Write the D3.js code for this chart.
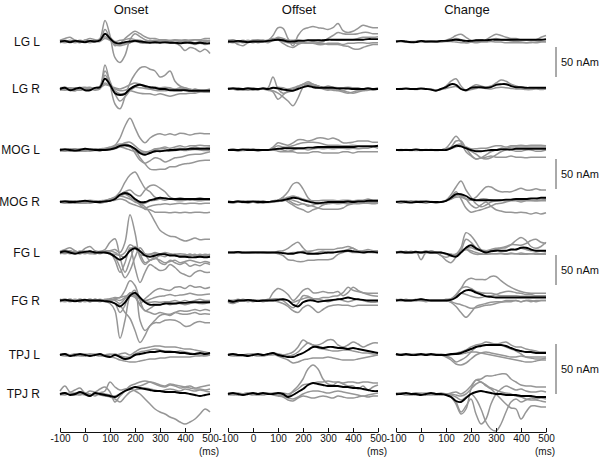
<!DOCTYPE html>
<html><head><meta charset="utf-8">
<script src="https://cdn.jsdelivr.net/npm/d3@7"></script>
<style>body{margin:0;background:#fff}svg{display:block;font-family:"Liberation Sans",Arial,sans-serif}</style>
</head><body><svg id="c" width="600" height="459"></svg>
<script>
// ---------- DATA ----------
const timesMs = [-100,-80,-60,-40,-20,0,20,40,60,80,100,120,140,160,180,200,220,240,260,280,300,320,340,360,380,400,420,440,460,480,500];
const regions = ["LG L","LG R","MOG L","MOG R","FG L","FG R","TPJ L","TPJ R"];
const conditions = ["Onset","Offset","Change"];
const xTickValues = [-100,0,100,200,300,400,500];
const timeUnitLabel = "(ms)";
const scaleBarValue = 50;
const scaleBarLabel = "50 nAm";

// LG L (nAm)
const LGL_onset_mean = [0,1,-1,1,0,-1,1,0,2,13,5,-2,-3,-1,0,1,0,-1,-2,-1,-2,-1,-2,-2,-3,-2,-2,-3,-2,-3,-3];
const LGL_onset_subj = [
 [0,2,0,-2,0,2,0,0,5,35,10,-27,-35,-23,3,13,8,3,0,-2,0,2,0,-2,0,2,0,-2,0,2,0],
 [2,5,7,2,0,2,5,3,2,20,5,-7,-3,5,12,17,13,8,5,5,3,3,2,3,2,3,2,3,3,5,5],
 [0,-2,0,2,0,-2,0,0,2,8,3,-3,-5,-3,-2,0,-2,-3,-2,-3,-2,-2,-3,-3,-7,-15,-10,-12,-17,-13,-20],
 [-2,0,-2,0,2,0,-2,0,0,5,2,-5,-7,-5,-2,2,0,-2,0,2,0,-2,-3,-2,0,-2,-3,-5,-3,-5,-3],
 [0,0,2,0,-2,2,0,2,3,12,7,0,2,3,5,3,2,0,2,0,2,2,0,2,2,0,2,3,2,0,2]];
const LGL_offset_mean = [0,0,1,0,-1,0,0,0,1,2,3,2,0,0,1,1,2,2,2,2,3,3,3,3,3,3,3,3,4,4,4];
const LGL_offset_subj = [
 [0,0,-2,0,2,0,0,2,2,10,23,22,5,-7,10,20,23,25,23,22,20,23,30,18,15,17,22,27,25,23,23],
 [0,0,0,0,0,2,0,0,0,2,3,0,-2,-3,-3,-2,-3,-3,-2,0,5,10,15,13,12,12,13,15,15,13,13],
 [-2,0,-5,-7,-2,0,-2,0,2,5,3,-3,-8,-10,-5,-2,-3,-3,-3,-3,-5,-5,-5,-7,-8,-12,-13,-10,-7,-5,-5],
 [2,3,0,-2,0,2,3,2,0,3,7,5,2,0,-2,-2,-3,-3,-5,-5,-3,-3,-3,-5,-3,-3,-2,-2,-3,-2,-2],
 [0,-2,0,2,0,-2,0,0,-2,2,5,3,2,2,3,2,2,0,2,2,3,3,2,2,3,3,5,7,7,7,8]];
const LGL_change_mean = [0,1,0,-1,-1,1,0,0,0,1,1,2,3,2,1,1,2,2,2,3,3,3,3,3,3,3,3,3,3,3,4];
const LGL_change_subj = [
 [0,1,0,-1,0,1,0,0,-1,0,2,5,10,12,7,2,2,3,3,8,12,10,7,5,5,3,3,3,3,7,10],
 [-1,0,-1,-2,-1,0,-1,0,0,0,1,2,5,3,-2,-1,0,1,2,3,5,3,2,1,0,-1,-2,-2,-1,0,1],
 [1,0,-1,0,0,-1,0,1,0,-1,0,0,-1,-2,-2,-1,-2,-1,-1,0,-1,-1,-2,-2,-2,-2,-2,-1,-2,-1,-1]];

// LG R
const LGR_onset_mean = [0,2,-2,0,2,-2,-2,2,3,17,7,-7,-10,-8,0,5,7,5,3,2,0,0,-2,-2,-2,-2,-3,-3,-3,-3,-3];
const LGR_onset_subj = [
 [2,3,0,-3,2,3,0,2,5,40,8,-25,-33,-13,10,25,35,37,33,30,20,23,30,13,5,2,0,-2,-3,-2,-3],
 [-2,0,2,0,-2,2,3,0,2,30,13,-8,-20,-13,-3,3,7,3,0,-2,-3,-3,-2,-3,-3,-2,-3,-5,-3,-5,-5],
 [0,-2,0,2,0,-2,0,-2,0,23,10,-3,-8,-7,-3,-5,-7,-8,-8,-10,-8,-10,-12,-10,-8,-8,-7,-7,-5,-5,-5],
 [2,0,-2,-3,0,2,2,0,2,7,5,2,0,3,7,10,8,5,3,3,2,3,2,0,2,0,-2,0,-2,-2,0],
 [-1,1,2,-1,-2,0,1,2,1,10,5,0,-3,-2,1,3,2,1,0,1,-1,0,1,-1,0,-1,-2,-1,-2,-3,-2]];
const LGR_offset_mean = [0,1,0,0,1,0,0,1,0,2,1,-1,-2,-3,0,3,5,3,2,2,2,2,1,1,1,0,0,0,1,0,0];
const LGR_offset_subj = [
 [0,2,0,-2,0,2,0,0,2,20,0,-7,-5,-2,3,8,12,8,5,2,0,0,-2,-2,0,0,-2,0,0,-2,0],
 [0,0,2,0,-2,0,0,0,-2,-5,-17,-10,-3,0,3,7,8,5,2,0,-2,0,0,-3,-5,-7,-5,-3,-2,0,0],
 [0,0,0,0,0,-2,0,0,0,-3,-7,-13,-20,-28,-15,3,10,8,5,2,0,-2,-3,-5,-7,-5,-3,-2,-2,0,0],
 [2,0,-2,0,2,0,-2,2,0,2,3,2,0,2,5,8,8,7,5,3,5,3,2,2,3,2,2,0,2,0,2]];
const LGR_change_mean = [0,0,1,0,0,1,0,-1,-3,0,3,8,7,0,-2,2,3,3,2,3,7,8,8,5,3,3,2,2,2,2,2];
const LGR_change_subj = [
 [0,0,0,0,0,0,0,0,-2,0,5,13,17,5,-2,3,7,5,3,5,10,15,13,8,5,3,2,2,2,0,2],
 [0,1,0,0,-1,0,0,-1,-2,-1,1,3,4,0,-3,-1,1,2,1,0,2,3,2,1,0,0,-1,-1,0,-1,0]];

// MOG L
const MOGL_onset_mean = [0,1,0,-1,0,2,1,0,0,0,1,3,7,8,7,2,-5,-8,-5,-2,-2,-1,0,0,1,1,2,2,2,2,2];
const MOGL_onset_subj = [
 [0,2,0,0,2,0,-2,0,2,3,5,8,20,40,53,37,20,12,20,25,27,25,27,25,28,27,25,27,28,27,27],
 [0,0,-2,0,0,-2,0,2,0,2,3,5,8,10,7,-5,-17,-22,-18,-13,-15,-20,-17,-13,-12,-10,-8,-7,-7,-5,-3],
 [2,0,0,2,-2,0,2,0,0,0,2,3,7,8,5,0,-13,-23,-32,-33,-32,-32,-28,-28,-25,-23,-22,-20,-18,-17,-17],
 [0,-2,0,2,0,-2,0,0,-2,2,3,7,10,8,5,2,-3,-5,-2,2,3,5,3,5,7,5,7,7,8,7,7],
 [-2,0,2,0,-2,0,2,2,0,0,2,5,8,12,13,7,0,-3,-2,0,2,2,0,2,3,2,3,5,3,3,5],
 [1,-1,0,-2,1,2,0,-1,1,0,0,2,5,3,0,-3,-6,-8,-5,-3,-2,-1,-2,-1,0,-1,0,1,0,-1,0]];
const MOGL_offset_mean = [0,0,0,1,0,0,0,0,0,1,2,3,3,3,3,3,4,4,5,5,5,5,5,5,5,5,6,6,6,6,7];
const MOGL_offset_subj = [
 [0,1,0,-1,0,0,1,0,0,5,12,10,8,12,17,17,15,17,20,20,18,20,17,12,12,13,15,15,15,13,13],
 [0,0,-2,0,0,0,-2,0,0,0,-2,-3,-3,-3,-5,-5,-5,-3,-3,-5,-5,-5,-5,-3,-3,-5,-3,-3,-3,-3,-3],
 [0,2,0,0,0,2,0,0,0,3,7,5,5,7,10,12,13,13,12,10,8,8,8,7,7,8,7,7,7,7,7],
 [0,0,0,0,2,0,0,0,0,2,2,0,-2,0,2,2,0,2,3,2,3,2,3,3,2,3,2,3,3,5,3]];
const MOGL_change_mean = [0,0,0,0,1,0,0,0,0,0,0,3,7,6,3,0,-2,-2,-1,0,0,1,1,1,2,2,2,2,2,2,2];
const MOGL_change_subj = [
 [0,1,0,0,-1,0,0,1,0,0,3,13,23,13,-3,-10,-15,-13,-12,-10,-12,-12,-12,-10,-12,-12,-13,-12,-12,-12,-12],
 [0,0,1,0,0,-1,0,0,0,0,2,5,15,15,3,-8,-15,-13,-8,-3,0,3,3,5,5,5,5,5,5,5,5],
 [0,-1,0,0,1,0,0,0,-1,0,2,3,8,10,3,-2,-7,-13,-15,-13,-8,-3,0,0,-2,-2,0,0,-2,-2,0],
 [1,0,0,-1,0,0,1,0,0,0,0,2,5,7,5,2,2,3,3,5,7,7,5,7,7,8,7,8,8,8,7]];

// MOG R
const MOGR_onset_mean = [0,1,0,0,1,2,1,0,0,1,2,5,12,15,12,5,0,0,3,5,7,6,5,5,5,5,5,5,5,5,5];
const MOGR_onset_subj = [
 [0,2,0,-2,0,2,3,2,0,2,5,8,17,33,45,50,37,23,17,8,5,3,5,3,2,3,5,3,2,3,3],
 [0,0,2,0,-2,0,0,2,0,0,3,7,10,8,5,0,-3,-8,-18,-33,-47,-53,-57,-58,-62,-65,-63,-60,-63,-62,-62],
 [2,0,-2,0,2,0,-2,0,2,3,5,8,10,17,13,3,-5,-12,-13,-17,-17,-17,-18,-17,-18,-17,-18,-17,-17,-18,-17],
 [0,-2,0,2,0,-2,0,0,-2,0,2,5,12,17,20,13,10,20,27,28,23,17,8,5,3,3,5,3,3,5,3],
 [0,2,2,0,-2,-2,0,2,0,2,3,7,10,13,8,2,-3,-2,2,3,5,7,5,5,7,5,3,5,7,5,5],
 [-1,0,-2,1,0,-1,1,0,0,1,2,3,5,3,-2,-5,-8,-10,-7,-5,-4,-3,-4,-3,-2,-3,-2,-2,-3,-2,-2]];
const MOGR_offset_mean = [0,0,1,0,0,1,0,0,0,1,2,3,5,7,6,3,1,-1,-2,-1,0,0,0,0,1,0,1,1,2,2,2];
const MOGR_offset_subj = [
 [0,0,2,0,0,0,2,0,0,2,3,8,17,30,32,22,7,0,-2,-3,-2,0,-2,-2,0,-2,0,0,2,0,0],
 [0,-2,0,0,2,0,0,-2,0,0,2,7,0,-5,-10,-13,-17,-13,-10,-5,-2,0,0,-2,0,0,-2,0,0,-2,0],
 [0,0,0,2,0,0,-2,0,0,0,2,3,5,3,0,-3,-5,-7,-10,-12,-12,-12,-12,-10,-5,-3,-2,-2,0,0,0],
 [2,0,0,0,-2,0,0,2,0,2,3,5,8,10,8,5,3,2,2,3,3,3,2,3,3,2,3,3,5,3,3],
 [-1,0,1,-1,0,1,0,0,-1,0,1,2,3,-2,-5,-3,-7,-5,-3,-2,-3,-2,-3,-2,-3,-2,-3,-2,-2,-3,-2]];
const MOGR_change_mean = [0,1,0,-1,0,0,1,0,0,0,2,7,13,13,10,5,3,3,3,3,3,3,4,4,5,5,5,6,6,7,7];
const MOGR_change_subj = [
 [0,0,0,0,0,2,0,0,0,0,3,12,25,35,20,8,-3,-8,-5,0,2,3,2,3,3,5,3,5,5,3,5],
 [0,0,2,0,0,0,0,0,-2,0,2,7,12,10,5,3,8,17,25,25,20,17,17,17,20,23,20,20,22,20,20],
 [0,-2,0,0,2,0,-2,0,0,0,2,5,10,12,5,-5,-10,-5,0,-7,-13,-15,-17,-17,-18,-17,-18,-20,-18,-20,-18],
 [0,0,0,2,0,0,0,0,0,0,2,8,17,5,-10,-17,-15,-13,-10,-7,-3,-2,0,2,2,0,2,2,2,2,2],
 [1,0,-1,0,0,-1,0,1,0,0,2,5,8,8,5,3,3,5,5,3,2,3,2,3,3,2,3,3,2,3,3]];

// FG L
const FGL_onset_mean = [0,2,0,-2,0,1,2,0,0,0,-2,-7,-12,-7,3,7,2,-5,-7,-5,-3,-3,-5,-5,-7,-7,-8,-8,-7,-8,-7];
const FGL_onset_subj = [
 [0,2,3,0,-2,2,0,2,0,2,3,5,0,17,63,33,-8,-20,-13,-10,-13,-17,-15,-13,-17,-15,-13,-15,-17,-15,-17],
 [2,5,8,3,0,7,10,3,2,5,17,23,-8,-33,-13,8,-3,-17,-13,-10,-5,-7,-3,-5,-7,-5,-3,-5,-3,-5,-3],
 [0,-2,0,2,0,-2,0,0,0,0,0,-13,-33,-17,8,-25,-50,-33,-20,-25,-30,-28,-20,-25,-33,-37,-40,-33,-30,-33,-33],
 [0,0,-2,0,2,0,-2,-2,0,0,-3,-8,-25,-42,-30,-8,8,-3,-13,-7,-17,-20,-13,-17,-20,-17,-23,-20,-22,-18,-20],
 [-2,0,2,0,-2,0,2,0,-2,0,-2,-3,-5,0,13,8,-3,-5,-3,-2,-3,-3,-5,-3,-5,-5,-3,-5,-5,-3,-5],
 [0,2,0,0,2,2,0,-2,0,2,3,0,-5,-8,5,10,3,-2,-3,0,-2,0,-2,-3,-2,-3,-5,-3,-7,-5,-7]];
const FGL_offset_mean = [0,0,1,0,0,0,0,0,0,0,0,-1,-2,-2,0,0,-2,-2,-2,-1,0,0,1,2,3,2,1,0,1,1,0];
const FGL_offset_subj = [
 [0,1,0,0,-1,0,0,1,0,0,2,3,7,13,17,8,0,-2,0,2,0,0,2,3,5,7,3,2,2,0,0],
 [0,0,-1,0,0,1,0,0,-1,0,-2,-5,-12,-13,-15,-15,-13,-13,-12,-12,-12,-10,-3,0,2,0,0,0,0,0,0],
 [1,0,0,-1,0,0,1,0,0,0,0,0,-2,0,0,2,2,3,5,5,5,5,7,8,10,7,3,3,5,3,3]];
const FGL_change_mean = [0,1,0,0,1,0,1,0,0,0,-2,-5,-7,0,8,12,7,3,0,2,3,3,3,5,5,8,8,5,3,3,3];
const FGL_change_subj = [
 [0,0,2,0,2,-12,0,0,0,-5,-8,-5,-3,8,33,28,17,5,3,3,5,3,3,5,5,7,5,3,3,3,3],
 [0,2,0,0,0,0,3,0,0,0,-2,-3,-5,3,22,17,8,3,2,3,5,7,8,13,20,25,20,10,7,10,17],
 [0,0,0,2,0,0,0,3,0,-5,-13,-17,-8,0,5,0,-3,-3,-3,-2,-2,-2,-3,-2,-2,-3,-3,-2,-3,-3,-3],
 [0,0,0,0,0,0,0,0,0,0,-2,-3,-3,2,7,8,5,3,3,5,7,8,10,13,13,12,15,20,22,17,15],
 [1,0,-1,0,0,1,0,-1,0,-1,-3,-5,-3,2,5,3,0,-2,-3,-2,-2,-1,-2,-1,-2,-1,-2,-2,-1,-2,-1]];

// FG R
const FGR_onset_mean = [0,1,0,-1,0,1,0,0,0,-1,-2,-5,-10,-3,8,13,5,-3,-7,-7,-7,-5,-5,-5,-4,-4,-3,-3,-3,-3,-3];
const FGR_onset_subj = [
 [0,2,0,-2,0,2,-2,0,0,-2,-5,-17,-63,-33,8,17,-33,-50,-42,-33,-25,-23,-25,-20,-17,-18,-17,-15,-17,-15,-17],
 [0,0,2,0,-2,0,2,0,0,0,-2,-5,-8,-20,-30,-50,-70,-58,-42,-37,-37,-33,-32,-33,-37,-43,-42,-37,-35,-37,-37],
 [2,0,-2,0,2,0,0,2,0,2,3,5,5,17,33,25,0,-17,-13,-8,-7,-5,-7,-5,-5,-7,-5,-3,-5,-5,-3],
 [0,-2,0,2,0,-2,0,0,2,0,0,3,5,7,8,5,-5,3,10,17,20,18,17,22,23,20,25,22,23,20,22],
 [-2,0,2,0,-2,0,2,0,-2,0,-2,-5,-20,-8,13,8,-8,-17,-20,-23,-20,-22,-23,-20,-22,-23,-22,-20,-23,-22,-23],
 [0,2,0,0,2,0,-2,2,0,0,2,0,-5,3,10,7,2,-2,-3,-2,-3,-2,-2,0,-2,0,-2,0,2,0,0],
 [0,-1,1,0,0,1,0,-1,0,1,0,2,0,5,12,10,3,0,2,5,7,8,10,8,9,10,12,10,9,10,11]];
const FGR_offset_mean = [0,-2,0,0,1,0,-1,0,0,0,1,2,0,-7,-10,-3,0,0,-2,-1,0,1,2,3,5,3,2,1,0,0,0];
const FGR_offset_subj = [
 [0,0,2,0,0,0,0,0,0,13,20,17,10,0,7,17,20,13,13,15,13,13,15,8,13,22,17,13,10,8,7],
 [-2,-3,-2,0,0,-2,0,0,0,0,-2,-5,-10,-17,-20,-12,-8,-13,-20,-15,-10,-8,-7,-8,-8,-10,-8,-8,-8,-8,-8],
 [0,0,0,2,0,0,0,0,2,2,3,2,0,-3,0,3,5,3,3,5,5,7,8,13,22,17,15,13,12,12,12],
 [-3,-5,-2,0,-2,0,0,-2,0,2,3,0,-7,-12,-5,8,7,3,2,0,-2,0,2,0,-2,0,2,0,-2,-3,-2]];
const FGR_change_mean = [0,1,0,0,1,2,1,0,0,0,0,1,5,12,17,17,13,10,7,6,5,5,5,5,5,5,5,5,5,5,5];
const FGR_change_subj = [
 [0,0,2,0,0,0,0,0,0,0,0,2,8,20,33,37,35,35,35,40,40,33,27,22,18,15,13,12,12,12,12],
 [0,2,0,0,0,2,0,0,0,0,0,-3,-10,-20,-28,-20,-10,-7,-5,-3,-2,-2,0,0,0,-2,0,0,-2,0,0],
 [0,0,0,0,2,0,0,0,0,0,2,3,10,20,23,20,15,13,12,12,10,8,8,8,8,7,7,7,7,7,7],
 [2,0,0,0,0,0,-2,0,0,0,0,-2,-5,-7,-10,-13,-12,-10,-8,-7,-5,-3,-2,-2,0,-2,0,-2,0,0,0],
 [0,0,0,0,0,3,0,0,0,0,0,2,7,12,10,7,5,5,7,8,10,13,15,15,13,12,10,10,8,8,8]];

// TPJ L
const TPJL_onset_mean = [0,1,-1,0,1,0,-1,0,1,-1,-2,0,-2,-4,-3,0,1,2,3,3,4,3,3,3,2,2,1,1,2,1,2];
const TPJL_onset_subj = [
 [1,0,-1,1,0,-1,1,0,-1,0,1,0,1,2,0,3,6,7,8,9,9,8,8,8,7,6,6,5,4,3,2],
 [0,-1,0,1,-1,0,1,0,0,-1,-2,-3,-5,-6,-7,-7,-6,-5,-4,-4,-3,-3,-2,-2,-2,-2,-2,-1,-1,0,0],
 [0,1,0,-1,0,1,0,1,0,-1,0,1,-1,-2,-2,1,3,4,5,6,5,4,4,3,4,3,2,1,0,-1,0]];
const TPJL_offset_mean = [0,1,0,0,-1,0,1,0,1,2,0,-1,-2,-2,0,2,5,8,8,7,8,8,7,7,6,7,6,5,4,3,2];
const TPJL_offset_subj = [
 [0,1,0,-1,0,1,0,0,1,2,1,0,1,3,8,15,12,10,10,12,15,15,10,8,10,13,11,8,10,12,12],
 [0,-1,0,0,1,0,-1,0,0,1,-1,-3,-5,-8,-7,-5,-4,-3,-3,-3,-2,-3,-4,-5,-5,-5,-4,-3,-2,-1,0],
 [1,0,-1,0,0,1,0,-1,0,0,1,0,-1,0,3,8,12,10,7,6,5,4,4,5,5,4,3,2,2,1,1]];
const TPJL_change_mean = [1,0,1,0,0,1,0,1,0,0,0,1,1,2,4,6,8,9,10,10,10,10,9,7,5,4,3,3,2,2,2];
const TPJL_change_subj = [
 [1,0,0,1,0,0,1,0,0,0,-1,-3,-7,-5,-2,3,8,10,10,11,11,10,8,6,4,1,-2,-3,-4,-4,-3],
 [0,1,0,0,1,0,0,0,1,0,-2,-5,-9,-10,-8,-4,0,2,3,2,1,0,-1,-2,-2,-1,-2,-2,-2,-2,-2],
 [0,0,1,0,0,1,0,0,0,1,0,1,2,3,5,8,10,11,13,12,11,12,13,10,8,8,6,5,4,3,3],
 [1,0,0,0,1,0,0,1,0,0,0,0,1,1,2,3,3,2,1,0,-1,-2,-3,-4,-5,-6,-7,-7,-6,-5,-5]];

// TPJ R
const TPJR_onset_mean = [0,1,-1,0,2,0,-2,1,0,-1,-2,-3,0,3,5,7,6,5,4,3,3,2,2,2,1,1,0,-1,-2,-1,0];
const TPJR_onset_subj = [
 [0,1,0,-1,1,0,-1,0,1,0,-1,-2,0,3,5,3,0,-5,-10,-15,-18,-20,-23,-25,-28,-30,-28,-25,-20,-15,-18],
 [3,8,2,4,6,1,3,2,5,7,2,-8,-2,3,8,10,12,13,12,10,8,7,9,8,6,7,8,6,7,8,9],
 [0,-1,1,0,-1,1,0,-2,1,3,12,7,4,5,6,7,8,10,12,11,9,8,10,9,8,7,6,5,5,4,5],
 [-1,0,0,1,0,-1,-2,0,-1,-2,-3,-5,-8,-3,2,4,5,6,5,4,3,4,5,4,3,5,4,3,4,3,2]];
const TPJR_offset_mean = [0,1,0,-1,0,1,0,1,0,0,1,0,-3,-1,2,5,9,11,10,9,8,8,8,7,7,6,6,5,4,3,3];
const TPJR_offset_subj = [
 [1,0,0,-1,0,1,0,0,1,0,1,0,-2,3,8,15,25,29,25,15,10,9,12,10,8,8,5,8,4,7,9],
 [0,-1,0,0,1,0,-1,0,0,-1,-2,-3,-6,-7,-4,-2,-3,-4,-3,-2,-3,-4,-2,-3,-4,-4,-3,-2,-3,-2,-2],
 [-1,0,1,0,0,-1,0,1,0,1,0,1,0,2,5,9,10,11,12,12,13,12,12,11,12,12,11,12,12,11,11],
 [0,0,-1,0,1,0,0,-1,0,0,-1,-2,-4,-5,-3,0,2,3,3,2,1,2,3,2,1,0,-1,-2,-1,0,1]];
const TPJR_change_mean = [0,0,1,0,0,-1,0,1,0,0,-1,-3,-7,-8,-4,0,2,3,2,1,0,0,-1,-1,-1,-2,-2,-2,-3,-3,-3];
const TPJR_change_subj = [
 [0,1,0,0,-1,0,1,0,0,0,0,-3,-10,-20,-15,5,14,15,18,18,19,20,20,15,12,9,8,8,7,7,7],
 [1,0,0,-1,0,0,0,1,0,-1,0,-2,-8,-18,-12,-5,-20,-30,-25,-10,0,5,8,6,4,5,3,2,2,3,2],
 [0,0,-1,0,1,0,0,0,-1,0,0,-1,-3,-6,-3,0,-5,-15,-28,-35,-37,-30,-18,-8,-5,-8,-6,-4,-5,-4,-5],
 [-1,0,0,0,1,0,-1,0,0,1,0,0,-1,-2,0,5,10,12,8,5,0,-5,-10,-14,-15,-25,-18,-12,-12,-13,-13],
 [0,1,0,0,0,1,0,-1,0,0,0,1,2,0,3,8,14,12,9,6,4,2,1,0,-2,-3,-5,-6,-6,-7,-8]];

// ---------- TABLE ----------
const panelData = [
 [[LGL_onset_mean,LGL_onset_subj],[LGL_offset_mean,LGL_offset_subj],[LGL_change_mean,LGL_change_subj]],
 [[LGR_onset_mean,LGR_onset_subj],[LGR_offset_mean,LGR_offset_subj],[LGR_change_mean,LGR_change_subj]],
 [[MOGL_onset_mean,MOGL_onset_subj],[MOGL_offset_mean,MOGL_offset_subj],[MOGL_change_mean,MOGL_change_subj]],
 [[MOGR_onset_mean,MOGR_onset_subj],[MOGR_offset_mean,MOGR_offset_subj],[MOGR_change_mean,MOGR_change_subj]],
 [[FGL_onset_mean,FGL_onset_subj],[FGL_offset_mean,FGL_offset_subj],[FGL_change_mean,FGL_change_subj]],
 [[FGR_onset_mean,FGR_onset_subj],[FGR_offset_mean,FGR_offset_subj],[FGR_change_mean,FGR_change_subj]],
 [[TPJL_onset_mean,TPJL_onset_subj],[TPJL_offset_mean,TPJL_offset_subj],[TPJL_change_mean,TPJL_change_subj]],
 [[TPJR_onset_mean,TPJR_onset_subj],[TPJR_offset_mean,TPJR_offset_subj],[TPJR_change_mean,TPJR_change_subj]]
];

// ---------- LAYOUT ----------
const svg = d3.select("#c");
const colX0 = [60, 228, 396], panelW = 150;
const rowBase = [41.5, 89, 150, 202, 252.5, 300.5, 355, 394];
const rowGain = [0.6,0.6,0.6,0.6,0.6,0.6,1,1]; // px per nAm
const axisY = 432;
const barX = 556;
const barCenters = [{row:0, cy:62},{row:2, cy:174},{row:4, cy:270},{row:6, cy:369}];

const xScales = colX0.map(x0 => d3.scaleLinear().domain([-100,500]).range([x0, x0+panelW]));
const yScales = rowBase.map((b,r) => d3.scaleLinear().domain([-50,50]).range([b+50*rowGain[r], b-50*rowGain[r]]));

regions.forEach((reg, r) => {
  conditions.forEach((cond, c) => {
    const [mean, subj] = panelData[r][c];
    const x = xScales[c], y = yScales[r];
    const line = d3.line().x((d,i)=>x(timesMs[i])).y(d=>y(d)).curve(d3.curveCatmullRom.alpha(0.5));
    const g = svg.append("g");
    subj.forEach(s => {
      g.append("path").attr("d", line(s)).attr("fill","none").attr("stroke","#969696").attr("stroke-width",1.5).attr("stroke-linejoin","round");
    });
    g.append("path").attr("d", line(mean)).attr("fill","none").attr("stroke","#000").attr("stroke-width",1.9).attr("stroke-linejoin","round");
  });
  svg.append("text").attr("x",40).attr("y",rowBase[r]+4).attr("text-anchor","end")
    .attr("font-size","12px").attr("fill","#111").text(reg);
});

conditions.forEach((cond,c) => {
  svg.append("text").attr("x",colX0[c]+71).attr("y",13.5).attr("text-anchor","middle")
    .attr("font-size","13px").attr("fill","#111").text(cond);
  const ax = svg.append("g").attr("transform",`translate(0,${axisY})`)
    .call(d3.axisBottom(xScales[c]).tickValues(xTickValues).tickSizeInner(-4).tickSizeOuter(0).tickPadding(3).tickFormat(d=>String(d)));
  ax.select(".domain").attr("stroke","#111");
  ax.selectAll(".tick line").attr("stroke","#111");
  ax.selectAll("text").attr("font-size","10px").attr("fill","#111").attr("font-family","Liberation Sans, Arial, sans-serif");
  svg.append("text").attr("x",xScales[c](500)-1).attr("y",455).attr("text-anchor","middle")
    .attr("font-size","10px").attr("fill","#111").text(timeUnitLabel);
});

barCenters.forEach(b => {
  const len = scaleBarValue * rowGain[b.row];
  svg.append("line").attr("x1",barX).attr("x2",barX).attr("y1",b.cy-len/2).attr("y2",b.cy+len/2)
    .attr("stroke","#555").attr("stroke-width",1);
  svg.append("text").attr("x",barX+5).attr("y",b.cy+4).attr("font-size","11px").attr("fill","#111").text(scaleBarLabel);
});
</script></body></html>
